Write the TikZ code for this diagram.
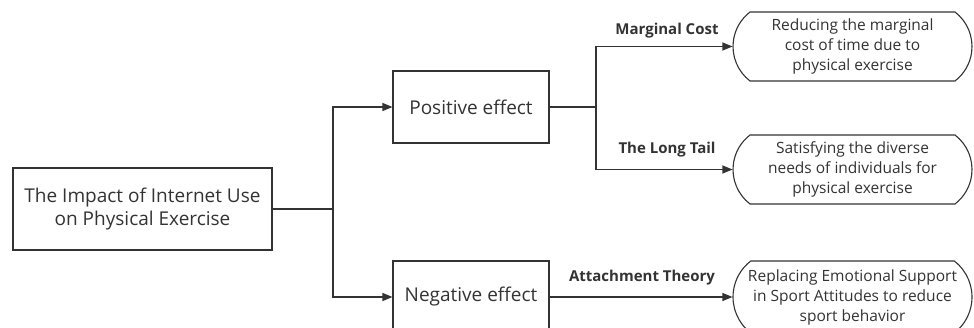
\documentclass[tikz,border=0pt]{standalone}
\usepackage{fontspec}
\setmainfont{Open Sans}
\usetikzlibrary{shapes.misc,arrows.meta}
\definecolor{ink}{HTML}{333333}
\begin{document}
\begin{tikzpicture}[x=1pt,y=1pt,
  line width=1.1pt, draw=ink, text=ink,
  box/.style={draw=ink, line width=1.1pt, rectangle, inner sep=0pt, align=center, font=\fontsize{19}{23}\selectfont},
  pill/.style={draw=ink, line width=1.1pt, rounded rectangle, rounded rectangle arc length=105, inner sep=0pt, minimum width=239pt, align=center, font=\fontsize{15.5}{20}\selectfont},
  lab/.style={font=\bfseries\fontsize{15}{17}\selectfont, text=ink, inner sep=0pt},
  arr/.style={draw=ink, line width=1.1pt, -{Triangle[length=10pt,width=8pt]}},
  ln/.style={draw=ink, line width=1.1pt}]
\useasboundingbox (0,0) rectangle (974,-328);
\node[box, minimum width=259pt, minimum height=82pt] (main) at (142.5,-209) {The Impact of Internet Use\\on Physical Exercise};
\node[box, minimum width=156pt, minimum height=72pt] (pos) at (471,-107) {Positive effect};
\node[box, minimum width=156pt, minimum height=72pt] (neg) at (471,-297) {Negative effect};
\node[pill, minimum height=69pt] (r1) at (852.5,-46.5) {Reducing the marginal\\cost of time due to\\physical exercise};
\node[pill, minimum height=69pt] (r2) at (852.5,-169.5) {Satisfying the diverse\\needs of individuals for\\physical exercise};
\node[pill, minimum height=72pt] (r3) at (852.5,-297) {Replacing Emotional Support\\in Sport Attitudes to reduce\\sport behavior};
\coordinate (j1) at (333,-209);
\coordinate (j2) at (596,-107);
\draw[ln] (main.east) -- (j1);
\draw[arr] (j1) |- (pos.west);
\draw[arr] (j1) |- (neg.west);
\draw[ln] (pos.east) -- (j2);
\draw[arr] (j2) |- (r1.west);
\draw[arr] (j2) |- (r2.west);
\draw[arr] (neg.east) -- (r3.west);
\node[lab] (l1) at (667,-31) {Marginal Cost};
\node[lab] (l2) at (667,-150) {The Long Tail};
\node[lab] (l3) at (642,-278) {Attachment Theory};
\end{tikzpicture}
\end{document}
